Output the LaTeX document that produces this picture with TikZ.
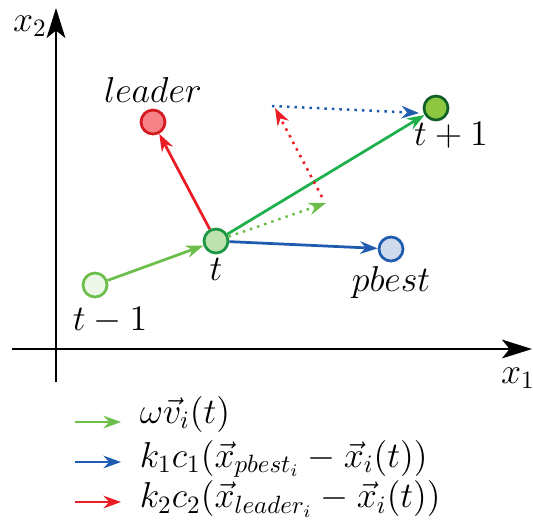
\documentclass[tikz,border=0pt]{standalone}
\usetikzlibrary{arrows.meta, positioning}

\definecolor{lgreen}{RGB}{108,190,74}
\definecolor{dgreen}{RGB}{29,176,75}
\definecolor{pblue}{RGB}{31,92,175}
\definecolor{pred}{RGB}{236,28,36}
\definecolor{ngreen}{RGB}{141,198,63}

\begin{document}
\begin{tikzpicture}[
  x=0.4pt, y=-0.4pt,
  >={Stealth[length=7pt, width=5pt]},
  font=\Large,
  % Node styles
  particle/.style={circle, draw, line width=1.1pt, minimum size=9.6pt, inner sep=0pt},
  % Edge styles
  axis/.style={line width=0.7pt, -{Stealth[length=12pt, width=7.5pt, inset=3pt]}},
  vec/.style={line width=1.1pt, ->},
  part/.style={line width=1pt, dotted, ->},
  legend/.style={font=\Large, anchor=west}
]
\useasboundingbox (0,0) rectangle (533,522);

% ------------------------------------------------------------
% Axes
% ------------------------------------------------------------
\coordinate (O1) at (12,349);
\coordinate (E1) at (532,349);
\coordinate (O2) at (56,382);
\coordinate (E2) at (56,8);
\draw[axis] (O1) -- (E1);
\draw[axis] (O2) -- (E2);
\node (x1) at (518,378) {$x_1$};
\node (x2) at (30,26) {$x_2$};

% ------------------------------------------------------------
% Particles
% ------------------------------------------------------------
\node[particle, draw=lgreen, fill=lgreen!12] (tp) at (95,285)
  [label={[label distance=0pt, xshift=6pt]below:$t-1$}] {};
\node[particle, draw=dgreen!85!black, fill=lgreen!45] (t) at (216,241)
  [label={[label distance=-2pt]below:$t$}] {};
\node[particle, draw=pred!90!black, fill=pred!55] (ld) at (153,122)
  [label={[label distance=-1pt]above:$leader$}] {};
\node[particle, draw=pblue, fill=pblue!22] (pb) at (391,249)
  [label={[label distance=-2pt]below:$pbest$}] {};
\node[particle, draw=dgreen!55!black, fill=ngreen] (tn) at (436,108)
  [label={[label distance=-3pt, xshift=6pt]below:$t+1$}] {};

% helper points of the velocity sum
\coordinate (gtip) at (326,203);
\coordinate (rbase) at (322,197);
\coordinate (rtip) at (275,108);
\coordinate (btail) at (272,106);
\coordinate (btip) at (419,113);

% ------------------------------------------------------------
% Vectors
% ------------------------------------------------------------
\draw[vec, lgreen] (tp) -- (t);
\draw[vec, pred] (t) -- (ld);
\draw[vec, pblue] (t) -- (pb);
\draw[vec, dgreen] (t) -- (tn);

\draw[part, lgreen] (t) -- (gtip);
\draw[part, pred] (rbase) -- (rtip);
\draw[part, pblue] (btail) -- (btip);

% ------------------------------------------------------------
% Legend
% ------------------------------------------------------------
\begin{scope}[shift={(75,0)}]
  \coordinate (la) at (0,422);  \coordinate (lb) at (46,422);
  \coordinate (ma) at (0,462);  \coordinate (mb) at (46,462);
  \coordinate (na) at (0,502);  \coordinate (nb) at (46,502);
  \draw[vec, lgreen] (la) -- (lb);
  \draw[vec, pblue] (ma) -- (mb);
  \draw[vec, pred] (na) -- (nb);
  \node[legend] (l1) at (56,414) {$\omega\vec{v}_i(t)$};
  \node[legend] (l2) at (56,459) {$k_1c_1(\vec{x}_{pbest_i}-\vec{x}_i(t))$};
  \node[legend] (l3) at (56,499) {$k_2c_2(\vec{x}_{leader_i}-\vec{x}_i(t))$};
\end{scope}

\end{tikzpicture}
\end{document}
